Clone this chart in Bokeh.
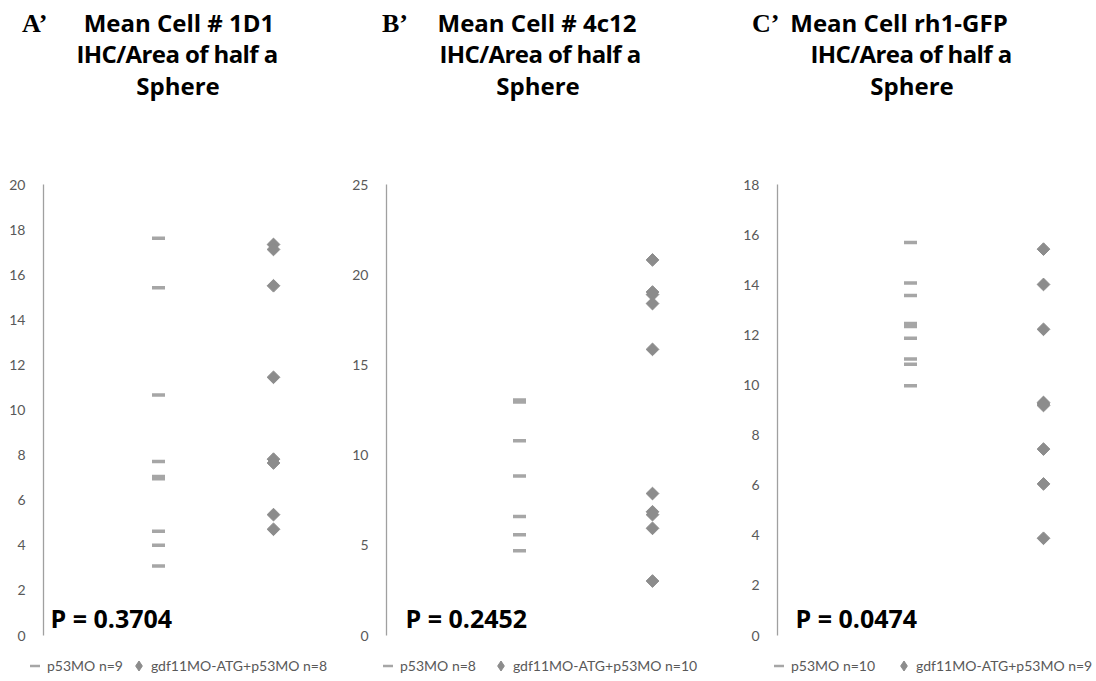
import numpy as np
from bokeh.plotting import figure
from bokeh.models import Range1d, SingleIntervalTicker, Label, Legend, LegendItem, Div
from bokeh.layouts import row, column
from bokeh.embed import file_html
from bokeh.resources import INLINE

# ---- data ----
groups = ["p53MO", "gdf11MO-ATG+p53MO"]
group_x = [1, 2]

a_p53 = [17.62, 15.42, 10.66, 7.72, 7.05, 6.95, 4.62, 4.00, 3.08]
a_gdf = [17.34, 17.12, 15.51, 11.45, 7.82, 7.65, 5.36, 4.71]
b_p53 = [13.06, 13.00, 12.94, 10.79, 8.84, 6.60, 5.59, 4.70]
b_gdf = [20.82, 19.04, 18.90, 18.40, 15.86, 7.87, 6.86, 6.70, 5.94, 3.02]
c_p53 = [15.69, 14.07, 13.57, 12.45, 12.39, 12.33, 11.86, 11.04, 10.83, 9.97]
c_gdf = [15.42, 14.01, 12.22, 9.30, 9.24, 9.18, 7.44, 6.05, 3.88]

letters = ["A\u2019", "B\u2019", "C\u2019"]
titles = [
    ["Mean Cell # 1D1", "IHC/Area of half a", "Sphere"],
    ["Mean Cell # 4c12", "IHC/Area of half a", "Sphere"],
    ["Mean Cell rh1-GFP", "IHC/Area of half a", "Sphere"],
]
p_values = ["P = 0.3704", "P = 0.2452", "P = 0.0474"]
y_max = [20, 25, 18]
y_step = [2, 5, 2]

SANS = "Lato"
BOLD = "Open Sans"
DASH_COLOR = "#a6a6a6"
DIAMOND_COLOR = "#8c8c8c"
TICK_COLOR = "#595959"
TOTAL_W = 1093
HEADER_H = 110
MAIN_H = 535
LEG_H = 681 - HEADER_H - MAIN_H


def make_panel(i, p53, gdf, width, border_left, border_right, px_per_unit, p_x):
    frame_w = width - border_left - border_right
    p = figure(width=width, height=MAIN_H, output_backend="svg", toolbar_location=None,
               x_range=Range1d(0, frame_w / px_per_unit), y_range=Range1d(0, y_max[i]),
               min_border_left=border_left, min_border_right=border_right,
               min_border_top=184 - HEADER_H, min_border_bottom=MAIN_H - (635 - HEADER_H))
    p.outline_line_color = None
    p.xgrid.visible = False
    p.ygrid.visible = False
    p.xaxis.visible = False

    ya = p.yaxis[0]
    ya.ticker = SingleIntervalTicker(interval=y_step[i])
    ya.axis_line_color = "#a0a0a0"
    ya.axis_line_width = 1.3
    ya.major_tick_line_color = None
    ya.minor_tick_line_color = None
    ya.major_tick_out = 0
    ya.major_tick_in = 0
    ya.major_label_standoff = 14
    ya.major_label_text_font = SANS
    ya.major_label_text_font_size = "14px"
    ya.major_label_text_color = TICK_COLOR

    p.scatter([group_x[0]] * len(p53), p53, marker="dash", size=13,
              line_color=DASH_COLOR, line_width=3.5)
    p.scatter([group_x[1]] * len(gdf), gdf, marker="square", size=9, angle=np.pi / 4,
              fill_color=DIAMOND_COLOR, line_color=DIAMOND_COLOR)

    p.add_layout(Label(x=p_x, y=1, x_units="screen", y_units="screen", text=p_values[i],
                       text_baseline="bottom",
                       text_font=BOLD, text_font_style="bold", text_font_size="25px",
                       text_color="black"))
    return p


pa = make_panel(0, a_p53, a_gdf, 345, 43, 40, 115, 7)
pb = make_panel(1, b_p53, b_gdf, 380, 41, 45, 133, 19)
pc = make_panel(2, c_p53, c_gdf, 368, 52, 10, 133, 18)

# ---- legend strip: one small figure holding the three legends ----
lf = figure(width=TOTAL_W, height=LEG_H, output_backend="svg", toolbar_location=None,
            x_range=Range1d(0, TOTAL_W), y_range=Range1d(0, LEG_H),
            x_axis_type=None, y_axis_type=None,
            min_border_left=0, min_border_right=0, min_border_top=0, min_border_bottom=0)
lf.outline_line_color = None
lf.xgrid.visible = False
lf.ygrid.visible = False
# legend key glyphs (single point placed outside the visible range)
k1 = lf.scatter(x=[-100], y=[-100], marker="dash", line_color=DASH_COLOR, line_width=2.5)
k2 = lf.scatter(x=[-100], y=[-100], marker="diamond", fill_color=DIAMOND_COLOR,
                line_color=DIAMOND_COLOR)
counts = [(len(a_p53), len(a_gdf)), (len(b_p53), len(b_gdf)), (len(c_p53), len(c_gdf))]
legend_x = [22, 375, 766]
legend_spacing = [3, 12, 16]
for i in range(3):
    n1 = f"{groups[0]} n={counts[i][0]}"
    n2 = f"{groups[1]} n={counts[i][1]}"
    leg = Legend(items=[LegendItem(label=n1, renderers=[k1]), LegendItem(label=n2, renderers=[k2])],
                 orientation="horizontal", location=(legend_x[i], 3),
                 border_line_color=None, background_fill_alpha=0,
                 glyph_width=25, glyph_height=25, label_standoff=0, spacing=legend_spacing[i],
                 padding=0, margin=0, label_text_font=SANS, label_text_font_size="14px",
                 label_text_color=TICK_COLOR, label_height=20)
    lf.add_layout(leg)

# ---- header texts (panel letters and titles) ----
letter_pos = [22, 382, 752]
title_centers = [[179, 177, 178], [537, 540, 538], [899, 911, 912]]
line_tops = [6, 37, 69]
line_spacing = ["0px", "-0.6px", "0px"]
spans = []
for i in range(3):
    spans.append(
        f'<span style="position:absolute;left:{letter_pos[i]}px;top:9px;'
        f'font-family:\'Liberation Serif\';font-weight:bold;font-size:26px;'
        f'line-height:normal;white-space:nowrap;color:black">{letters[i]}</span>')
    for k in range(3):
        spans.append(
            f'<span style="position:absolute;left:{title_centers[i][k]}px;top:{line_tops[k]}px;'
            f'transform:translateX(-50%);font-family:\'Open Sans\';font-weight:bold;'
            f'font-size:24px;letter-spacing:{line_spacing[k]};line-height:normal;'
            f'white-space:nowrap;color:black">{titles[i][k]}</span>')
header = Div(text=f'<div style="position:relative;width:{TOTAL_W}px;height:{HEADER_H}px">' +
             "".join(spans) + "</div>", width=TOTAL_W, height=HEADER_H, margin=0)

layout = column(header, row(pa, pb, pc, spacing=0), lf, spacing=0)
open("out.html", "w").write(file_html(layout, INLINE))
